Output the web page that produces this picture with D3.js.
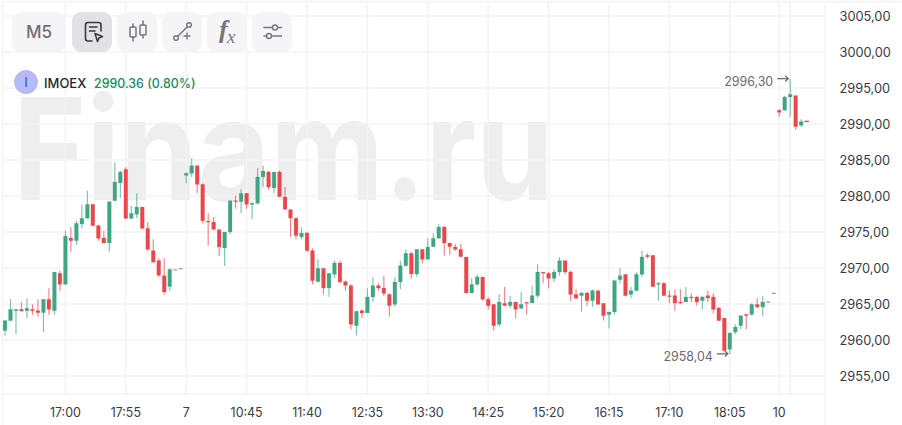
<!DOCTYPE html>
<html><head><meta charset="utf-8">
<script src="https://cdn.jsdelivr.net/npm/d3@7/dist/d3.min.js"></script>
<style>html,body{margin:0;padding:0;background:#fff;overflow:hidden}svg{display:block;font-family:Inter,sans-serif}</style>
</head><body><svg id="c" width="902" height="425"></svg>
<script>
const opens=[2961.30,2962.69,2964.07,2964.26,2964.07,2964.26,2964.07,2963.80,2965.65,2964.07,2969.26,2967.73,2974.17,2973.80,2976.11,2976.90,2978.84,2975.88,2974.17,2973.47,2979.35,2981.81,2983.70,2976.90,2977.45,2978.47,2975.51,2972.41,2971.02,2968.93,2967.41,2969.72,2969.91,2982.87,2983.15,2984.21,2981.62,2976.53,2976.39,2975.32,2972.78,2975.00,2979.35,2979.21,2980.37,2978.80,2978.98,2982.64,2983.33,2981.11,2983.33,2979.86,2978.10,2976.90,2974.31,2974.86,2972.41,2968.10,2969.95,2967.22,2969.12,2970.69,2968.10,2967.55,2961.99,2964.07,2963.75,2965.97,2967.55,2967.22,2966.34,2964.95,2968.06,2970.32,2972.04,2969.17,2972.59,2971.20,2972.96,2974.12,2975.69,2973.47,2972.92,2972.59,2971.53,2966.53,2967.73,2968.75,2965.65,2964.95,2962.18,2965.09,2964.77,2965.28,2964.40,2965.23,2965.14,2966.16,2969.44,2969.26,2968.56,2969.44,2971.02,2969.44,2966.34,2966.16,2966.53,2965.46,2966.85,2965.09,2963.52,2963.89,2968.38,2969.12,2966.34,2966.85,2969.12,2971.76,2971.76,2967.73,2967.87,2966.16,2966.16,2965.28,2965.28,2965.97,2965.97,2965.46,2966.16,2965.97,2964.44,2963.05,2958.70,2961.11,2961.99,2963.56,2963.56,2964.95,2964.58,2965.28,2966.48,2991.90,2991.90,2993.75,2993.94,2989.82,2990.42];
const closes=[2962.69,2964.26,2964.26,2964.03,2964.40,2964.07,2963.80,2965.65,2964.26,2969.44,2967.73,2974.44,2973.80,2976.20,2976.90,2978.84,2975.88,2974.12,2973.47,2979.21,2981.95,2983.33,2976.90,2977.59,2978.47,2975.51,2972.59,2970.83,2968.98,2966.67,2969.81,2969.72,2969.91,2983.15,2984.21,2981.62,2976.57,2976.44,2975.37,2972.92,2975.00,2979.35,2979.21,2980.37,2978.84,2978.98,2982.64,2983.47,2981.25,2983.33,2979.91,2978.15,2976.94,2974.49,2974.86,2972.41,2968.24,2969.95,2967.22,2969.26,2970.69,2968.06,2967.59,2962.18,2963.98,2963.75,2965.97,2967.55,2967.22,2966.48,2964.77,2968.06,2970.32,2972.04,2969.17,2972.59,2971.20,2972.92,2974.12,2975.69,2973.47,2972.96,2972.59,2971.57,2966.53,2967.73,2968.75,2965.65,2964.77,2961.99,2965.28,2964.77,2965.28,2964.26,2964.95,2965.14,2966.16,2969.44,2969.31,2968.56,2969.44,2971.02,2969.44,2966.34,2965.79,2966.53,2965.46,2966.85,2964.95,2963.38,2963.89,2968.24,2968.93,2966.16,2966.85,2969.12,2971.53,2971.57,2967.41,2967.87,2966.16,2966.02,2965.14,2965.14,2965.97,2965.83,2965.28,2965.97,2965.83,2964.26,2962.69,2958.52,2960.97,2961.80,2963.38,2963.38,2964.95,2964.58,2965.28,2965.28,2966.48,2991.62,2993.75,2994.12,2989.63,2990.33,2990.36];
const highs=[2962.78,2965.65,2964.26,2965.23,2965.79,2964.95,2965.65,2965.65,2967.18,2969.44,2969.63,2975.19,2975.65,2976.57,2978.80,2980.74,2978.84,2976.02,2975.19,2979.21,2984.68,2983.52,2983.98,2978.61,2980.37,2978.47,2976.39,2973.98,2971.34,2971.34,2969.95,2969.72,2969.91,2983.33,2985.23,2984.21,2981.76,2977.59,2977.08,2975.37,2975.00,2979.35,2980.05,2980.93,2980.37,2979.21,2983.84,2984.21,2983.52,2983.33,2983.52,2981.25,2978.15,2977.04,2975.65,2975.00,2972.73,2971.20,2969.95,2969.26,2971.02,2971.02,2968.24,2967.73,2964.07,2964.26,2967.18,2968.75,2967.87,2968.93,2966.48,2968.75,2971.02,2972.59,2972.27,2972.59,2972.59,2974.12,2974.81,2976.07,2975.83,2973.47,2973.33,2973.33,2971.53,2968.56,2969.12,2968.75,2965.97,2964.95,2966.34,2967.36,2966.16,2965.28,2966.67,2965.28,2967.55,2970.51,2969.44,2969.44,2969.81,2971.53,2971.02,2969.63,2967.04,2966.67,2966.67,2967.04,2966.85,2965.14,2963.89,2968.38,2969.95,2969.12,2967.36,2969.44,2972.41,2972.04,2971.76,2968.06,2968.06,2966.85,2967.04,2967.04,2967.36,2966.48,2966.16,2966.16,2966.85,2966.48,2964.58,2963.05,2961.11,2962.18,2963.38,2963.56,2965.09,2965.83,2966.16,2965.28,2966.48,2992.08,2993.94,2996.30,2993.94,2990.65,2990.42];
const lows=[2960.60,2962.69,2960.79,2963.93,2963.01,2963.52,2963.24,2961.11,2963.52,2963.52,2966.85,2967.73,2972.27,2973.24,2975.51,2976.90,2975.88,2973.80,2973.47,2972.27,2979.35,2979.68,2976.76,2976.76,2976.90,2975.37,2972.41,2970.65,2968.80,2966.30,2966.85,2969.72,2969.91,2981.76,2982.59,2980.37,2976.20,2973.10,2975.28,2971.67,2970.28,2974.63,2978.24,2977.59,2978.24,2976.76,2978.84,2981.25,2980.88,2980.37,2979.91,2978.15,2974.31,2973.98,2973.98,2972.27,2967.73,2968.10,2966.34,2966.02,2968.61,2967.87,2966.85,2961.48,2960.65,2963.05,2963.75,2965.32,2966.85,2966.16,2963.24,2964.63,2967.04,2970.18,2968.56,2968.80,2970.65,2971.20,2972.96,2974.12,2971.71,2971.85,2972.41,2971.57,2966.53,2966.53,2967.55,2965.46,2964.26,2961.30,2961.85,2964.77,2964.40,2963.01,2964.26,2963.52,2965.14,2965.79,2967.87,2967.18,2968.06,2968.93,2969.12,2965.46,2965.79,2963.93,2964.77,2964.63,2964.95,2962.69,2961.62,2963.52,2967.87,2966.16,2965.79,2966.85,2968.80,2971.34,2967.41,2965.46,2966.16,2965.09,2964.07,2964.95,2965.28,2965.28,2964.77,2964.26,2965.28,2963.75,2962.69,2958.52,2958.04,2960.79,2961.48,2961.48,2963.38,2964.44,2963.38,2965.28,2966.48,2991.02,2991.90,2991.02,2989.21,2989.63,2990.36];
const xTickIdx=[11,22,33,44,55,66,77,88,99,110,121,132,141];
const xTickLabels=["17:00","17:55","7","10:45","11:40","12:35","13:30","14:25","15:20","16:15","17:10","18:05","10"];
const extraGridIdx=[143];
const yTicks=[3005,3000,2995,2990,2985,2980,2975,2970,2965,2960,2955];
const markers=[{i:143,v:2996.30,t:"2996,30"},{i:132,v:2958.04,t:"2958,04"}];
const toolbar=["M5","","","","",""];

const svg=d3.select("#c");
const x=d3.scaleLinear().domain([11,22]).range([65.4,125.8]);
const y=d3.scaleLinear().domain([2955,3005]).range([376,16]);
const L=2.5,R=825,T=1.5,B=394;
const UP="#3fa583",DN="#e8474c",GRID="#f3f3f5";

// watermark
svg.append("text").attr("x",13).attr("y",199.5).attr("font-size",142).attr("font-weight",700)
 .attr("fill","#eeeeef").attr("font-family","Inter").attr("textLength",541).attr("lengthAdjust","spacingAndGlyphs").text("Finam.ru");

// grid
const g=svg.append("g").attr("stroke",GRID).attr("stroke-width",1.5);
yTicks.forEach(v=>g.append("line").attr("x1",L).attr("x2",R).attr("y1",y(v)).attr("y2",y(v)));
xTickIdx.concat(extraGridIdx).forEach(i=>g.append("line").attr("x1",x(i)).attr("x2",x(i)).attr("y1",T).attr("y2",B));
g.append("line").attr("x1",L).attr("x2",902).attr("y1",T).attr("y2",T).attr("stroke-width",1.5);
g.append("line").attr("x1",L).attr("x2",L).attr("y1",T).attr("y2",425);
g.append("line").attr("x1",L).attr("x2",R).attr("y1",B).attr("y2",B);
g.append("line").attr("x1",R).attr("x2",R).attr("y1",T).attr("y2",425);

// candles
const idx=d3.range(opens.length);
const col=i=>opens[i]===closes[i]?"#9a9a9e":(closes[i]>opens[i]?UP:DN);
const cg=svg.append("g");
cg.selectAll("line.w").data(idx).join("line").attr("class","w")
 .attr("x1",i=>x(i)).attr("x2",i=>x(i)).attr("y1",i=>y(highs[i])).attr("y2",i=>y(lows[i]))
 .attr("stroke",col).attr("stroke-width",1.1).attr("stroke-opacity",.7);
cg.selectAll("rect.b").data(idx.filter(i=>opens[i]!==closes[i])).join("rect").attr("class","b")
 .attr("x",i=>x(i)-1.9).attr("width",3.8)
 .attr("y",i=>y(Math.max(opens[i],closes[i])))
 .attr("height",i=>Math.max(1,Math.abs(y(opens[i])-y(closes[i]))))
 .attr("fill",col).attr("stroke",col).attr("stroke-opacity",.3).attr("stroke-width",.6);
cg.selectAll("line.d").data(idx.filter(i=>opens[i]===closes[i]||i===146)).join("line").attr("class","d")
 .attr("x1",i=>x(i)-2).attr("x2",i=>x(i)+2).attr("y1",i=>y(closes[i])).attr("y2",i=>y(closes[i]))
 .attr("stroke",col).attr("stroke-width",1.2);

// axes
const fmt=v=>d3.format(".2f")(v).replace(".",",");
const ay=svg.append("g").attr("transform",`translate(${R},0)`)
 .call(d3.axisRight(y).tickValues(yTicks).tickFormat(fmt).tickSize(0).tickPadding(14.5));
ay.select(".domain").remove();
ay.selectAll("text").attr("font-family","Inter").attr("font-size",12.8).attr("fill","#3a3a3f");
const ax=svg.append("g").attr("transform",`translate(0,${B})`)
 .call(d3.axisBottom(x).tickValues(xTickIdx).tickFormat((d,i)=>xTickLabels[i]).tickSize(0).tickPadding(14.5));
ax.select(".domain").remove();
ax.selectAll("text").attr("font-family","Inter").attr("font-size",12.4).attr("fill","#3a3a3f").attr("dx",-.5);

// high / low markers
markers.forEach(m=>{
 const ax1=x(m.i)-13,ax2=x(m.i)-2,ay0=y(m.v)+(m.i===132?-.3:0);
 svg.append("text").attr("x",ax1-4).attr("y",ay0+3).attr("dy",".35em").attr("text-anchor","end")
  .attr("font-size",12.4).attr("fill","#6a6a70").text(m.t);
 svg.append("path").attr("d",`M${ax1},${ay0}H${ax2}M${ax2-3},${ay0-2.8}L${ax2},${ay0}L${ax2-3},${ay0+2.8}`)
  .attr("fill","none").attr("stroke","#6a6a70").attr("stroke-width",1.3);
});

// toolbar
const btns=[[12,54],[72,40],[117,40],[162,40],[207,40],[252,40]];
const tb=svg.append("g");
btns.forEach((b,i)=>tb.append("rect").attr("x",b[0]).attr("y",12).attr("width",b[1]).attr("height",40).attr("rx",9)
 .attr("fill",i===1?"#e1e1e6":"#f5f5f7"));
tb.append("text").attr("x",39).attr("y",38).attr("text-anchor","middle").attr("font-size",17).attr("font-weight",500).attr("fill","#6f6f76").text(toolbar[0]);
const ic=tb.append("g").attr("fill","none").attr("stroke-linecap","round").attr("stroke-linejoin","round");
ic.append("path").attr("stroke","#3a3a40").attr("stroke-width",1.6)
 .attr("d","M92,41H88Q85.5,41 85.5,38.5V25Q85.5,22.5 88,22.5H98.5Q101,22.5 101,25V31M89.5,27H97M89.5,31H95M95,33.5L102.5,36.5L99,38L97.5,41.5Z");
const ci=ic.append("g").attr("stroke","#75757c").attr("stroke-width",1.5);
ci.append("rect").attr("x",130).attr("y",27).attr("width",6).attr("height",10).attr("rx",1);
ci.append("path").attr("d","M133,24V27M133,37V41");
ci.append("rect").attr("x",140).attr("y",25).attr("width",6).attr("height",10).attr("rx",1);
ci.append("path").attr("d","M143,21V25M143,35V38");
const li=ic.append("g").attr("stroke","#75757c").attr("stroke-width",1.4);
li.append("circle").attr("cx",176).attr("cy",38).attr("r",2.3);
li.append("circle").attr("cx",189).attr("cy",25).attr("r",2.3);
li.append("path").attr("d","M177.8,36.2L187.3,26.8M187,33V39M184,36H190");
tb.append("text").attr("x",219).attr("y",38).attr("font-family","Liberation Serif").attr("font-style","italic").attr("font-size",26).attr("font-weight",700).attr("fill","#75757c").text("f");
tb.append("text").attr("x",227).attr("y",43).attr("font-family","Liberation Serif").attr("font-style","italic").attr("font-size",19).attr("fill","#75757c").text("x");
const si=ic.append("g").attr("stroke","#75757c").attr("stroke-width",1.4);
si.append("path").attr("d","M264,27.5H272.5M278,27.5H281.5M264,36H266.5M272,36H281.5");
si.append("circle").attr("cx",275).attr("cy",27.5).attr("r",2.5);
si.append("circle").attr("cx",269).attr("cy",36).attr("r",2.5);

// legend
svg.append("circle").attr("cx",26).attr("cy",82).attr("r",11.5).attr("fill","#b6baf9").attr("stroke","#a9aef0").attr("stroke-width",.8);
svg.append("text").attr("x",26).attr("y",86.5).attr("text-anchor","middle").attr("font-size",13).attr("fill","#3b48d8").text("I");
svg.append("text").attr("x",44).attr("y",87.5).attr("font-size",13).attr("font-weight",500).attr("fill","#26262a").text("IMOEX");
svg.append("text").attr("x",94).attr("y",87.5).attr("font-size",12.4).attr("font-weight",500).attr("fill","#1f8a65").text("2990.36 (0.80%)");
</script></body></html>
